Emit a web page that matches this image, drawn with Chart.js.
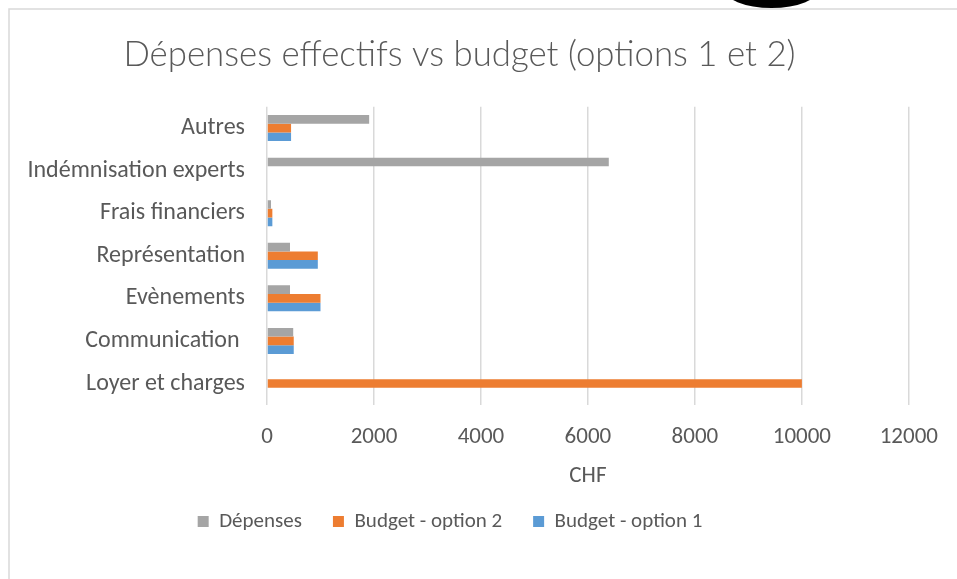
<!DOCTYPE html>
<html>
<head>
<meta charset="utf-8">
<script src="https://cdn.jsdelivr.net/npm/chart.js@4/dist/chart.umd.min.js"></script>
<style>
  html, body { margin: 0; padding: 0; background: #fff; }
  #wrap { width: 957px; height: 579px; position: relative; }
</style>
</head>
<body>
<div id="wrap"><canvas id="c"></canvas></div>
<script>
// data block
const categories = ['Autres', 'Indémnisation experts', 'Frais financiers', 'Représentation', 'Evènements', 'Communication ', 'Loyer et charges'];
const depenses = [1910, 6390, 75, 430, 430, 490, 0];
const budgetOption2 = [450, 0, 100, 950, 1000, 500, 10000];
const budgetOption1 = [450, 0, 100, 950, 1000, 500, 0];
const xTicks = [0, 2000, 4000, 6000, 8000, 10000, 12000];

const FONT = 'Carlito, Lato, sans-serif';
const TEXT = '#595959';

// frame around the chart + the dark blob cut off at the top
const frame = {
  id: 'frame',
  beforeDraw(chart) {
    const ctx = chart.ctx;
    ctx.save();
    ctx.fillStyle = '#fff';
    ctx.fillRect(0, 0, chart.width, chart.height);
    ctx.strokeStyle = '#d9d9d9';
    ctx.lineWidth = 1.5;
    ctx.beginPath();
    ctx.moveTo(9, chart.height + 2);
    ctx.lineTo(9, 9);
    ctx.lineTo(chart.width + 2, 9);
    ctx.stroke();
    ctx.fillStyle = '#000';
    ctx.beginPath();
    ctx.ellipse(771.5, -12, 48, 20, 0, 0, Math.PI * 2);
    ctx.fill();
    ctx.restore();
  },
};

const data = {
  labels: categories,
  datasets: [
    { label: 'Dépenses', data: depenses, backgroundColor: '#a5a5a5' },
    { label: 'Budget - option 2', data: budgetOption2, backgroundColor: '#ed7d31' },
    { label: 'Budget - option 1', data: budgetOption1, backgroundColor: '#5b9bd5' },
  ],
};

const config = {
  type: 'bar',
  data,
  plugins: [frame],
  options: {
    indexAxis: 'y',
    responsive: true,
    maintainAspectRatio: false,
    animation: false,
    categoryPercentage: 0.61,
    barPercentage: 1,
    layout: { padding: { left: 10, right: 48, top: 10, bottom: 37 } },
    scales: {
      x: {
        min: 0,
        max: 12000,
        afterBuildTicks: s => { s.ticks = xTicks.map(v => ({ value: v })); },
        grid: { color: '#d9d9d9', lineWidth: 1.5, drawTicks: false },
        border: { display: false },
        ticks: { color: TEXT, font: { family: FONT, size: 23 }, padding: 19, callback: v => String(v) },
        title: { display: true, text: 'CHF', color: TEXT, font: { family: FONT, size: 23 }, padding: { top: -8, bottom: 9 } },
      },
      y: {
        grid: { display: false, drawTicks: false },
        border: { display: false },
        ticks: { color: TEXT, font: { family: FONT, size: 24 }, padding: 22 },
        afterFit: s => { s.width = 257; },
      },
    },
    plugins: {
      title: {
        display: true,
        text: 'Dépenses effectifs vs budget (options 1 et 2)',
        color: TEXT,
        font: { family: '"Lato Light", Carlito, Lato, sans-serif', size: 34.8, weight: 300 },
        padding: { top: 24, bottom: 31 },
      },
      legend: {
        position: 'bottom',
        labels: {
          color: TEXT,
          font: { family: FONT, size: 21 },
          boxWidth: 11,
          boxHeight: 11,
          padding: 12,
          // extra gap after each entry, the legend padding also sets its height
          generateLabels: chart => Chart.defaults.plugins.legend.labels.generateLabels(chart)
            .map(l => ({ ...l, text: l.text + '    ' })),
        },
      },
      tooltip: { enabled: false },
    },
  },
};

new Chart(document.getElementById('c'), config);
</script>
</body>
</html>
